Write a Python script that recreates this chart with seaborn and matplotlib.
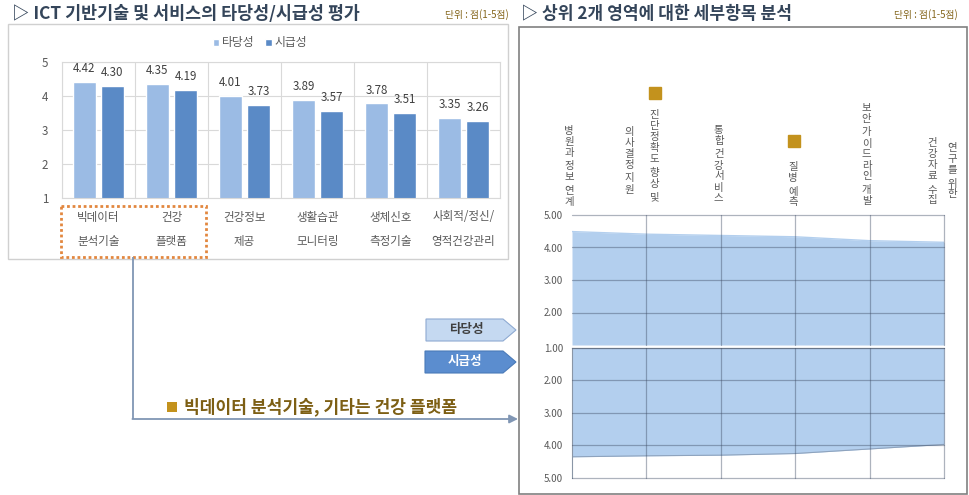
import numpy as np
import pandas as pd
import seaborn as sns
import matplotlib.pyplot as plt
from matplotlib import transforms as mtrans
from matplotlib.patches import Rectangle, Polygon

# ---------------------------------------------------------------
# 데이터
# ---------------------------------------------------------------
areas = ['빅데이터\n분석기술', '건강\n플랫폼', '건강정보\n제공', '생활습관\n모니터링',
         '생체신호\n측정기술', '사회적/정신/\n영적건강관리']
validity = [4.42, 4.35, 4.01, 3.89, 3.78, 3.35]
urgency = [4.30, 4.19, 3.73, 3.57, 3.51, 3.26]
series = ['타당성', '시급성']

detail_items = ['병원과 정보 연계', '진단정확도 향상 및 의사결정 지원', '통합 건강서비스',
                '질병 예측', '보안 가이드라인 개발', '연구를 위한 건강자료 수집']
detail_validity = [4.49, 4.41, 4.37, 4.33, 4.21, 4.16]
detail_urgency = [4.35, 4.32, 4.30, 4.25, 4.11, 3.97]
bigdata_flag = [False, True, False, True, False, False]

# ---------------------------------------------------------------
# 스타일
# ---------------------------------------------------------------
sns.set_style('white')
plt.rcParams['font.family'] = ['Noto Sans CJK KR', 'DejaVu Sans']

W, H = 969, 495
C_LIGHT = '#9bbbe4'
C_DARK = '#5a8ac6'
C_FILL = '#b3cfee'
C_TITLE = '#34455a'
C_UNIT = '#85661c'
C_GOLD = '#c3921d'
C_TXT = '#595959'

fig = plt.figure(figsize=(W / 100, H / 100), dpi=100)


def box(x0, y0, x1, y1):
    # 픽셀 좌표(위쪽 원점) -> figure 비율
    return [x0 / W, 1 - y1 / H, (x1 - x0) / W, (y1 - y0) / H]


# 장식용 오버레이 (픽셀 좌표)
ov = fig.add_axes([0, 0, 1, 1])
ov.set_xlim(0, W)
ov.set_ylim(H, 0)
ov.axis('off')

# 제목 / 단위
ov.text(12, 14, '▷ ICT 기반기술 및 서비스의 타당성/시급성 평가', fontsize=12.5,
        fontweight='bold', color=C_TITLE, va='center')
ov.text(509, 15, '단위 : 점(1-5점)', fontsize=7, color=C_UNIT, va='center', ha='right')
ov.text(521, 14, '▷ 상위 2개 영역에 대한 세부항목 분석', fontsize=12.3,
        fontweight='bold', color=C_TITLE, va='center')
ov.text(958, 15, '단위 : 점(1-5점)', fontsize=7, color=C_UNIT, va='center', ha='right')

# 박스
ov.add_patch(Rectangle((8, 24), 500, 235, fill=False, ec='#d0d0d0', lw=1))
ov.add_patch(Rectangle((519, 27), 448, 467, fill=False, ec='#808080', lw=1.2))
ov.add_patch(Rectangle((61, 205.5), 145.5, 51, fill=False, ec='#e2873f', lw=2,
                       ls=(0, (1, 1))))

# 연결선 + 화살표
ov.plot([133, 133], [257, 419], color='#8096b4', lw=1.3, solid_capstyle='butt')
ov.annotate('', xy=(518, 419), xytext=(132.4, 419),
            arrowprops=dict(arrowstyle='-|>,head_length=0.5,head_width=0.25',
                            color='#8096b4', lw=1.3, shrinkA=0, shrinkB=0))

# 타당성 / 시급성 표지
ov.add_patch(Polygon([(426, 319), (503, 319), (516, 330), (503, 341), (426, 341)],
                     closed=True, fc='#c5d9f1', ec='#8eaad2', lw=0.8))
ov.text(466, 330, '타당성', ha='center', va='center', fontsize=9,
        fontweight='bold', color='#404040')
ov.add_patch(Polygon([(425, 351), (503, 351), (516, 362), (503, 373), (425, 373)],
                     closed=True, fc='#5b8dcf', ec='#4a7ab8', lw=0.8))
ov.text(465, 362, '시급성', ha='center', va='center', fontsize=9,
        fontweight='bold', color='white')

# 주석
ov.add_patch(Rectangle((167, 402), 10, 10, fc=C_GOLD, ec='none'))
ov.text(184, 407, '빅데이터 분석기술, 기타는 건강 플랫폼', fontsize=12.3,
        fontweight='bold', color='#7d5f14', va='center')

# ---------------------------------------------------------------
# 왼쪽: 타당성/시급성 막대
# ---------------------------------------------------------------
df = pd.DataFrame({'영역': areas * 2,
                   '구분': [series[0]] * len(areas) + [series[1]] * len(areas),
                   '점수': validity + urgency})

ax1 = fig.add_axes(box(62, 62, 500, 198))
sns.barplot(data=df, x='영역', y='점수', hue='구분', palette=[C_LIGHT, C_DARK],
            width=0.77, gap=0.18, saturation=1, ax=ax1)
for cont in ax1.containers:
    ax1.bar_label(cont, fmt='%.2f', padding=5, fontsize=8.3, color='#404040')

ax1.set_ylim(1, 5)
ax1.set_xlim(-0.5, len(areas) - 0.5)
ax1.set_yticks([1, 2, 3, 4, 5])
ax1.set_xticks(np.arange(-0.5, len(areas), 1), minor=True)
ax1.set_axisbelow(True)
ax1.yaxis.grid(True, color='#d9d9d9', lw=0.8)
ax1.xaxis.grid(True, which='minor', color='#d9d9d9', lw=0.8)
ax1.tick_params(which='both', length=0, labelsize=8.3, colors=C_TXT)
ax1.tick_params(axis='y', pad=10)
ax1.tick_params(axis='x', pad=9)
for lbl in ax1.get_xticklabels():
    lbl.set_linespacing(2.15)
for sp in ax1.spines.values():
    sp.set_color('#d9d9d9')
    sp.set_linewidth(0.8)
ax1.set_xlabel('')
ax1.set_ylabel('')
handles, labels = ax1.get_legend_handles_labels()
ax1.legend(handles, labels, loc='center', bbox_to_anchor=(0.452, 1.14), ncol=2,
           frameon=False, fontsize=8.5, handlelength=0.55, handleheight=0.55,
           handletextpad=0.25, columnspacing=0.9, labelcolor=C_TXT)

# ---------------------------------------------------------------
# 오른쪽: 세부항목 (위: 타당성, 아래: 시급성)
# ---------------------------------------------------------------
x = np.arange(len(detail_items))
ax2 = fig.add_axes(box(572, 215, 944, 345))
ax3 = fig.add_axes(box(572, 347.5, 944, 478))

ax2.fill_between(x, 1, detail_validity, color=C_FILL, lw=0, zorder=1)
sns.lineplot(x=x, y=detail_validity, ax=ax2, color=C_FILL, lw=1)
ax3.fill_between(x, 1, detail_urgency, color=C_FILL, lw=0, zorder=1)
sns.lineplot(x=x, y=detail_urgency, ax=ax3, color='#8ea3bd', lw=0.8)

ax2.set_ylim(1, 5)
ax3.set_ylim(5, 1)
for ax, yt in [(ax2, [2, 3, 4, 5]), (ax3, [1, 2, 3, 4, 5])]:
    ax.set_xlim(0, len(detail_items) - 1)
    ax.set_xticks(x[1:])
    ax.set_xticklabels([])
    ax.set_yticks(yt)
    ax.set_yticklabels([f'{v:.2f}' for v in yt])
    ax.set_axisbelow(False)
    ax.grid(True, color='#3c4a63', alpha=0.42, lw=0.9)
    for gl in ax.get_xgridlines() + ax.get_ygridlines():
        gl.set_clip_on(False)
    ax.tick_params(length=0, labelsize=7, colors=C_TXT, pad=6.5)
    for sp in ax.spines.values():
        sp.set_visible(False)
    ax.set_xlabel('')
    ax.set_ylabel('')
    ax.patch.set_alpha(0)
ax3.spines['top'].set_visible(True)
ax3.spines['left'].set_visible(True)
ax3.spines['top'].set_color('#8a96a6')
ax3.spines['left'].set_color('#8a96a6')

# 세로쓰기 항목명 (줄, x 오프셋 px, 첫 글자 중심 y px)
columns = [
    [('병원과 정보 연계', -3, 131)],
    [('진단정확도 향상 및', 8, 115), ('의사결정 지원', -17, 132)],
    [('통합 건강서비스', -2, 130)],
    [('질병 예측', -2, 167)],
    [('보안 가이드라인 개발', -3, 108)],
    [('연구를 위한', 8, 148), ('건강자료 수집', -12, 143)],
]


def col_text(ax, xi, dx, y0, s):
    tr = mtrans.blended_transform_factory(ax.transData, ov.transData)
    tr = mtrans.offset_copy(tr, fig=fig, x=dx, y=0, units='dots')
    y = y0
    for ch in s:
        if ch == ' ':
            y += 2.5
            continue
        ax.text(xi, y, ch, transform=tr, ha='center', va='center',
                fontsize=7.5, color=C_TXT)
        y += 11


for i, cols in enumerate(columns):
    for s, dx, y0 in cols:
        col_text(ax2, x[i], dx, y0, s)

# 빅데이터 분석기술 항목 표시
marks = {1: (9, 93), 3: (-1, 140.5)}
for i, flag in enumerate(bigdata_flag):
    if flag:
        dx, y = marks[i]
        tr = mtrans.blended_transform_factory(ax2.transData, ov.transData)
        tr = mtrans.offset_copy(tr, fig=fig, x=dx, y=0, units='dots')
        ax2.plot([x[i]], [y], marker='s', ms=8.6, color=C_GOLD, ls='none',
                 transform=tr, clip_on=False)

ax2.set_xlim(0, len(detail_items) - 1)
ax2.set_ylim(1, 5)

fig.savefig('out.png', dpi=100)
